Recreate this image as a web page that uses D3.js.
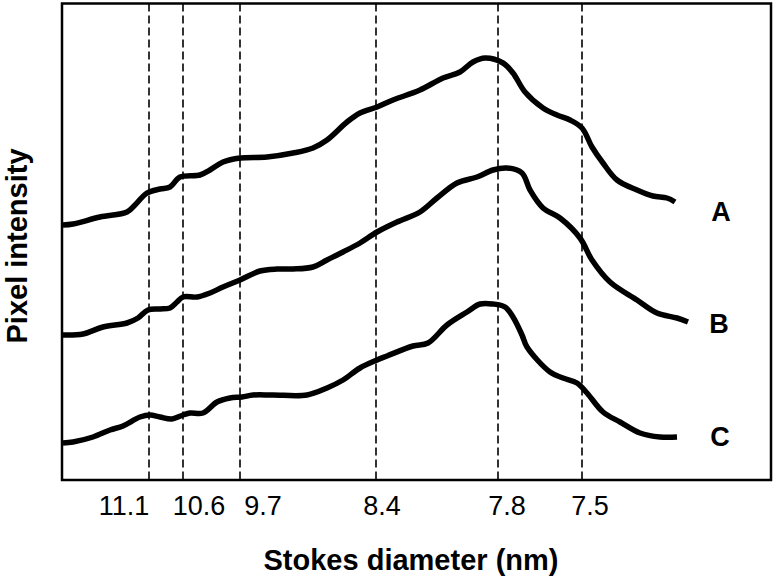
<!DOCTYPE html>
<html>
<head>
<meta charset="utf-8">
<script src="https://cdn.jsdelivr.net/npm/d3@7"></script>
<style>
  html, body { margin: 0; padding: 0; background: #fff; }
  svg { display: block; font-family: "Liberation Sans", Arial, Helvetica, sans-serif; }
</style>
</head>
<body>
<svg id="chart" width="773" height="579"></svg>
<script>
// Position along the gel (arbitrary channel units) and pixel intensity (arbitrary units)
const seriesNames = ["A", "B", "C"];
const seriesA = [[1,255],[11,256],[38,263],[65,268],[73,275],[85,287],[98,291],[108,293],[118,303],[138,305],[148,310],[161,318],[178,322],[205,323],[231,327],[251,332],[265,340],[285,358],[298,367],[315,373],[331,380],[358,390],[381,402],[398,408],[411,418],[423,422],[441,417],[451,407],[463,388],[481,372],[495,365],[508,360],[520,352],[530,333],[541,317],[555,300],[575,290],[591,284],[605,282],[613,278]];
const seriesB = [[1,145],[21,146],[41,153],[65,157],[76,162],[86,170],[98,171],[108,172],[115,178],[121,183],[135,183],[148,187],[161,193],[178,200],[198,209],[215,211],[231,211],[251,213],[265,220],[281,228],[298,237],[315,248],[335,258],[358,268],[375,282],[395,297],[415,303],[431,310],[445,312],[460,307],[468,290],[481,272],[498,262],[518,242],[530,220],[548,198],[575,180],[595,167],[615,162],[626,158]];
const seriesC = [[1,37],[11,38],[31,43],[48,50],[61,54],[78,63],[88,65],[98,63],[110,61],[121,65],[128,67],[141,67],[155,78],[168,82],[180,83],[191,85],[211,85],[245,85],[265,92],[281,100],[298,112],[315,120],[325,124],[351,134],[366,137],[385,155],[405,168],[418,176],[431,176],[443,173],[451,163],[460,145],[465,133],[488,108],[501,102],[515,97],[525,87],[541,68],[558,58],[578,47],[598,43],[615,43]];
// Series label anchors (channel, intensity)
const seriesLabelX = [659, 657, 658];
const seriesLabelY = [259, 147, 34];
// Stokes diameter markers
const markerPos = [87, 121, 178, 314, 436, 520];
const tickLabels = ["11.1", "10.6", "9.7", "8.4", "7.8", "7.5"];
const tickLabelPos = [62, 137, 201, 320, 445, 528];
const xTitle = "Stokes diameter (nm)";
const yTitle = "Pixel intensity";

const svg = d3.select("#chart");
const mLeft = 62, mRight = 771, mTop = 3.5, mBottom = 480;

const x = d3.scaleLinear().domain([0, 709]).range([mLeft, mRight]);
const y = d3.scaleLinear().domain([0, 476.5]).range([mBottom, mTop]);

// dashed marker lines
svg.append("g").selectAll("line").data(markerPos).join("line")
  .attr("x1", d => x(d)).attr("x2", d => x(d))
  .attr("y1", y(476.5)).attr("y2", y(0))
  .attr("stroke", "#000").attr("stroke-width", 1.6)
  .attr("stroke-dasharray", "8,4");

// curves
const line = d3.line().x(d => x(d[0])).y(d => y(d[1])).curve(d3.curveCatmullRom.alpha(0.5));
const allSeries = [seriesA, seriesB, seriesC];
svg.append("g").selectAll("path").data(allSeries).join("path")
  .attr("d", line)
  .attr("fill", "none").attr("stroke", "#000")
  .attr("stroke-width", 5.5)
  .attr("stroke-linejoin", "round").attr("stroke-linecap", "butt");

// frame
svg.append("rect")
  .attr("x", mLeft).attr("y", mTop)
  .attr("width", mRight - mLeft).attr("height", mBottom - mTop)
  .attr("fill", "none").attr("stroke", "#000").attr("stroke-width", 2.5);

// series labels
svg.append("g").selectAll("text").data(seriesNames).join("text")
  .attr("x", (d, i) => x(seriesLabelX[i]))
  .attr("y", (d, i) => y(seriesLabelY[i]))
  .attr("text-anchor", "middle")
  .attr("font-size", 27).attr("font-weight", "bold")
  .text(d => d);

// tick labels
svg.append("g").selectAll("text").data(tickLabels).join("text")
  .attr("x", (d, i) => x(tickLabelPos[i]))
  .attr("y", 515)
  .attr("text-anchor", "middle")
  .attr("font-size", 27)
  .text(d => d);

// axis titles
svg.append("text")
  .attr("x", 411).attr("y", 570)
  .attr("text-anchor", "middle")
  .attr("font-size", 29).attr("font-weight", "bold")
  .text(xTitle);

svg.append("text")
  .attr("transform", "translate(27,246) rotate(-90)")
  .attr("text-anchor", "middle")
  .attr("font-size", 29).attr("font-weight", "bold")
  .text(yTitle);
</script>
</body>
</html>
